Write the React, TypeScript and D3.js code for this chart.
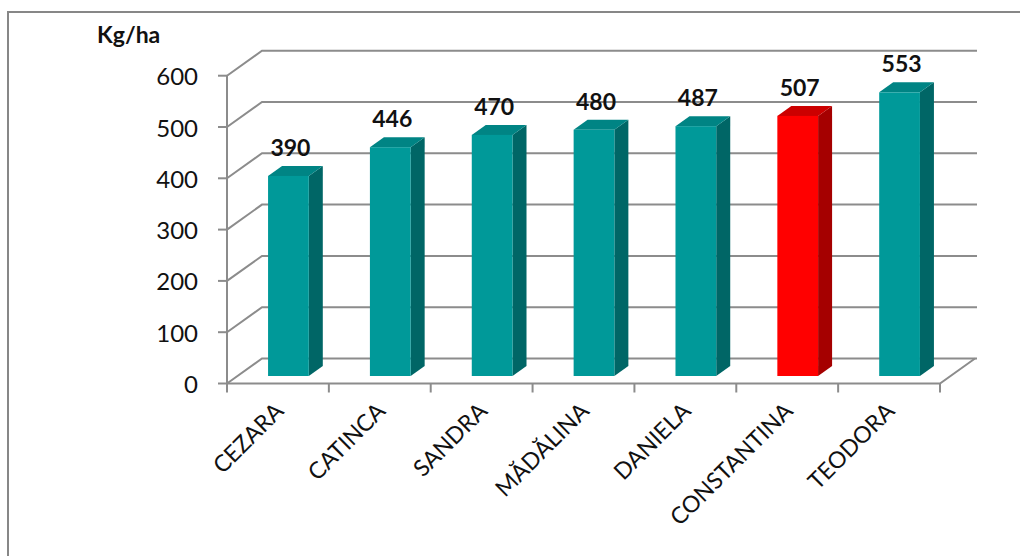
import React from "react";
import * as d3 from "d3";

const categories = ["CEZARA", "CATINCA", "SANDRA", "MĂDĂLINA", "DANIELA", "CONSTANTINA", "TEODORA"];
const values = [390, 446, 470, 480, 487, 507, 553];
const highlighted = ["CONSTANTINA"];
const yTicks = [0, 100, 200, 300, 400, 500, 600];
const yUnit = "Kg/ha";

const W = 1020;
const H = 556;
const X0 = 227;
const X1 = 940;
const Y0 = 383.5;
const Y1 = 75.7;
const DX = 35;
const DY = -25;
const GRID = "#8C8C8C";
const FONT = "Lato, 'Open Sans', sans-serif";

export default function App() {
  const x = d3.scaleBand<string>().domain(categories).range([X0, X1]).paddingInner(0).paddingOuter(0);
  const y = d3.scaleLinear().domain([0, 600]).range([Y0, Y1]);
  const step = x.step();
  const bw = step * 0.4;
  const f0 = 0.3;
  const f1 = 0.7;

  const line = d3.line<[number, number]>();

  return (
    <svg width={W} height={H} style={{ position: "absolute", left: 0, top: 0, background: "#fff" }}>
      {/* outer frame */}
      <path d={`M8,${H + 5} L8,12 L${W + 5},12`} fill="none" stroke="#878787" strokeWidth={2} />

      {/* back wall gridlines */}
      {yTicks.map((t) => (
        <path
          key={"g" + t}
          d={line([[X0, y(t)], [X0 + DX, y(t) + DY], [X1 + DX + 2, y(t) + DY]]) || ""}
          fill="none"
          stroke={GRID}
          strokeWidth={2}
        />
      ))}
      {/* floor */}
      <path
        d={line([[X0, Y0], [X1, Y0], [X1 + DX, Y0 + DY]]) || ""}
        fill="none"
        stroke={GRID}
        strokeWidth={2}
      />
      {/* y axis */}
      <line x1={X0} x2={X0} y1={Y0} y2={Y1} stroke={GRID} strokeWidth={2} />
      {yTicks.map((t) => (
        <g key={"t" + t}>
          <line x1={X0 - 9} x2={X0} y1={y(t)} y2={y(t)} stroke={GRID} strokeWidth={2} />
          <text
            x={198}
            y={y(t)}
            textAnchor="end"
            dominantBaseline="central"
            fontFamily={FONT}
            fontSize={24}
            fill="#111"
          >
            {t}
          </text>
        </g>
      ))}
      {/* x ticks */}
      {[...categories.map((c) => x(c) as number), X1].map((px, i) => (
        <line key={"xt" + i} x1={px} x2={px} y1={Y0} y2={Y0 + 9} stroke={GRID} strokeWidth={2} />
      ))}

      {/* bars */}
      {categories.map((c, i) => {
        const v = values[i];
        const red = highlighted.includes(c);
        const front = red ? "#FF0000" : "#009999";
        const side = red ? "#A50000" : "#006666";
        const top = red ? "#CC0000" : "#008484";
        const cx = (x(c) as number) + step / 2;
        const fx = cx + DX * f0 - bw / 2;
        const fyBase = Y0 + DY * f0;
        const fyTop = y(v) + DY * f0;
        const ddx = DX * (f1 - f0);
        const ddy = DY * (f1 - f0);
        return (
          <g key={c}>
            <path
              d={line([[fx + bw, fyTop], [fx + bw + ddx, fyTop + ddy], [fx + bw + ddx, fyBase + ddy], [fx + bw, fyBase]]) + "Z"}
              fill={side}
            />
            <path
              d={line([[fx, fyTop], [fx + ddx, fyTop + ddy], [fx + bw + ddx, fyTop + ddy], [fx + bw, fyTop]]) + "Z"}
              fill={top}
            />
            <rect x={fx} y={fyTop} width={bw} height={fyBase - fyTop} fill={front} />
            <text
              x={fx + bw / 2 + 2}
              y={fyTop - 20}
              textAnchor="middle"
              fontFamily={FONT}
              fontWeight="bold"
              fontSize={23}
              fill="#111"
            >
              {v}
            </text>
            <text
              transform={`translate(${cx + 7},${Y0 + 29}) rotate(-45)`}
              textAnchor="end"
              fontFamily={FONT}
              fontSize={23}
              fill="#111"
            >
              {c}
            </text>
          </g>
        );
      })}

      <text x={97} y={43} fontFamily={FONT} fontWeight="bold" fontSize={23} fill="#111">
        {yUnit}
      </text>
    </svg>
  );
}
